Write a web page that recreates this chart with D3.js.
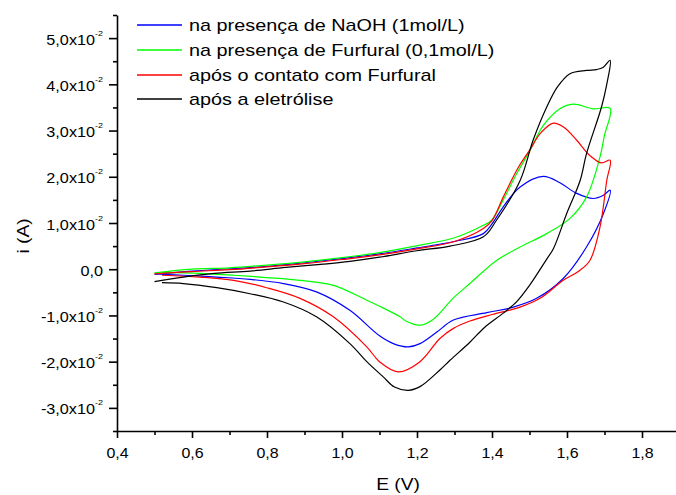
<!DOCTYPE html>
<html>
<head>
<meta charset="utf-8">
<script src="https://cdn.jsdelivr.net/npm/d3@7"></script>
<style>
  body { margin: 0; background: #fff; }
  svg { display: block; font-family: "Liberation Sans", Arial, sans-serif; }
</style>
</head>
<body>
<div class="chart"></div>
<script>
// Cyclic voltammograms, current in units of 1e-2 A
const iUnit = 1e-2;

const seriesNames = [
    "na presença de NaOH (1mol/L)",
    "na presença de Furfural (0,1mol/L)",
    "após o contato com Furfural",
    "após a eletrólise"
];
const seriesColors = ["#0000ff", "#00ff00", "#ff0000", "#000000"];

// blue: NaOH
const blueE = [0.50, 0.60, 0.70, 0.80, 0.90, 1.00, 1.10, 1.20, 1.30, 1.377, 1.40, 1.43, 1.475, 1.537, 1.581, 1.626, 1.67, 1.697, 1.715,
               1.697, 1.652, 1.59, 1.519, 1.457, 1.386, 1.297, 1.253, 1.208, 1.177, 1.14, 1.10, 1.021, 0.932, 0.844, 0.755, 0.666, 0.577, 0.52];
const blueI = [-0.11, -0.04, 0.01, 0.06, 0.14, 0.23, 0.33, 0.46, 0.60, 0.77, 0.98, 1.35, 1.78, 2.01, 1.87, 1.64, 1.53, 1.60, 1.71,
               1.20, 0.48, -0.20, -0.63, -0.82, -0.94, -1.10, -1.36, -1.61, -1.68, -1.62, -1.44, -0.89, -0.49, -0.31, -0.22, -0.17, -0.13, -0.11];

// green: Furfural
const greenE = [0.50, 0.60, 0.70, 0.80, 0.90, 1.00, 1.10, 1.208, 1.30, 1.377, 1.399, 1.43, 1.466, 1.50, 1.537, 1.581, 1.617, 1.67, 1.715,
                1.70, 1.688, 1.652, 1.608, 1.546, 1.475, 1.412, 1.341, 1.297, 1.244, 1.208, 1.17, 1.155, 1.10, 1.066, 0.977, 0.888, 0.799, 0.711, 0.621, 0.52];
const greenI = [-0.08, 0.00, 0.03, 0.09, 0.16, 0.25, 0.36, 0.52, 0.68, 0.95, 1.06, 1.50, 2.07, 2.55, 3.11, 3.47, 3.57, 3.47, 3.48,
                2.90, 2.43, 1.56, 1.10, 0.77, 0.48, 0.19, -0.31, -0.62, -1.08, -1.21, -1.12, -1.03, -0.80, -0.67, -0.35, -0.24, -0.18, -0.13, -0.09, -0.07];

// red: after contact with Furfural
const redE = [0.50, 0.60, 0.70, 0.80, 0.90, 1.00, 1.10, 1.20, 1.30, 1.377, 1.40, 1.43, 1.47, 1.50, 1.53, 1.564, 1.59, 1.626, 1.661, 1.692, 1.715,
              1.706, 1.688, 1.661, 1.63, 1.59, 1.528, 1.475, 1.40, 1.341, 1.297, 1.261, 1.208, 1.15, 1.10, 1.066, 0.977, 0.888, 0.799, 0.711, 0.621, 0.52];
const redI = [-0.10, -0.05, -0.01, 0.05, 0.12, 0.21, 0.31, 0.44, 0.60, 0.88, 1.05, 1.56, 2.20, 2.57, 2.95, 3.16, 3.08, 2.79, 2.46, 2.30, 2.36,
              1.92, 0.91, 0.19, -0.05, -0.24, -0.63, -0.82, -0.98, -1.12, -1.28, -1.50, -2.00, -2.22, -2.00, -1.68, -1.03, -0.63, -0.40, -0.24, -0.17, -0.13];

// black: after electrolysis
const blackE = [0.50, 0.577, 0.66, 0.755, 0.85, 0.95, 1.021, 1.10, 1.199, 1.288, 1.377, 1.412, 1.475, 1.51, 1.546, 1.575, 1.608, 1.652, 1.679, 1.697, 1.715,
                1.706, 1.692, 1.652, 1.635, 1.599, 1.564, 1.546, 1.50, 1.466, 1.43, 1.38, 1.341, 1.288, 1.261, 1.208, 1.177, 1.14, 1.11, 1.066, 1.021, 0.932, 0.844, 0.755, 0.666, 0.577, 0.52];
const blackI = [-0.27, -0.17, -0.09, -0.04, 0.04, 0.11, 0.17, 0.26, 0.40, 0.50, 0.70, 1.06, 1.92, 2.80, 3.51, 3.95, 4.23, 4.30, 4.32, 4.37, 4.52,
                4.00, 3.51, 2.50, 1.92, 1.20, 0.45, 0.22, -0.35, -0.70, -0.95, -1.26, -1.58, -1.97, -2.18, -2.54, -2.62, -2.55, -2.33, -2.00, -1.61, -1.03, -0.71, -0.53, -0.40, -0.31, -0.29];

const seriesE = [blueE, greenE, redE, blackE];
const seriesI = [blueI, greenI, redI, blackI];

// axis ticks
const xTicks = [0.4, 0.6, 0.8, 1.0, 1.2, 1.4, 1.6, 1.8];
const xMinorTicks = [0.5, 0.7, 0.9, 1.1, 1.3, 1.5, 1.7];
const yTicks = [-3, -2, -1, 0, 1, 2, 3, 4, 5];
const yMinorTicks = [-3.5, -2.5, -1.5, -0.5, 0.5, 1.5, 2.5, 3.5, 4.5, 5.5];

const width = 676, height = 495;
const font = "Liberation Sans, Arial, sans-serif";

const svg = d3.select(".chart").append("svg")
    .attr("width", width)
    .attr("height", height);

const xScale = d3.scaleLinear()
    .domain([0.4, 1.9])
    .range([117, 679.5]);

const yScale = d3.scaleLinear()
    .domain([-3.5 * iUnit, 5.5 * iUnit])
    .range([431, 15]);

// curves
const line = d3.line()
    .x(d => xScale(d.e))
    .y(d => yScale(d.i))
    .curve(d3.curveCatmullRom.alpha(0.5));

const curves = svg.append("g").attr("class", "curves");
seriesE.forEach((es, k) => {
    const pts = es.map((e, j) => ({e: e, i: seriesI[k][j] * iUnit}));
    curves.append("path")
        .datum(pts)
        .attr("fill", "none")
        .attr("stroke", seriesColors[k])
        .attr("stroke-width", 1.2)
        .attr("d", line);
});

function styleAxis(g) {
    g.selectAll(".domain, .tick line").attr("stroke", "#000").attr("stroke-width", 1.6);
}

// minor ticks
svg.append("g")
    .attr("transform", "translate(0,431)")
    .call(d3.axisBottom(xScale).tickValues(xMinorTicks).tickSize(4).tickFormat(""))
    .call(g => g.select(".domain").remove())
    .call(styleAxis);
svg.append("g")
    .attr("transform", "translate(117,0)")
    .call(d3.axisLeft(yScale).tickValues(yMinorTicks.map(v => v * iUnit)).tickSize(4).tickFormat(""))
    .call(g => g.select(".domain").remove())
    .call(styleAxis);

// X axis
const xAxis = svg.append("g")
    .attr("transform", "translate(0,431)")
    .call(d3.axisBottom(xScale)
        .tickValues(xTicks)
        .tickSize(7)
        .tickSizeOuter(0)
        .tickFormat(""))
    .call(styleAxis);

xAxis.selectAll(".tick").each(function(d) {
    d3.select(this).append("g")
        .attr("transform", "translate(0,27) scale(1.1,1)")
        .append("text")
        .attr("text-anchor", "middle")
        .attr("fill", "#000")
        .attr("font-size", 14.5)
        .attr("font-family", font)
        .text(d.toFixed(1).replace(".", ","));
});

// Y axis
const yAxis = svg.append("g")
    .attr("transform", "translate(117,0)")
    .call(d3.axisLeft(yScale)
        .tickValues(yTicks.map(v => v * iUnit))
        .tickSize(8)
        .tickSizeOuter(0)
        .tickFormat(""))
    .call(styleAxis);

yAxis.selectAll(".tick").each(function(d) {
    const v = Math.round(d / iUnit * 10) / 10;
    const t = d3.select(this).append("g")
        .attr("transform", "translate(-14,0) scale(1.12,1)")
        .append("text")
        .attr("dy", "0.42em")
        .attr("text-anchor", "end")
        .attr("fill", "#000")
        .attr("font-size", 14.5)
        .attr("font-family", font);
    if (v === 0) {
        t.text("0,0");
    } else {
        t.append("tspan").text(v.toFixed(1).replace(".", ",") + "x10");
        t.append("tspan").attr("font-size", 8).attr("dy", -9).text("-2");
    }
});

// Axis titles
svg.append("text")
    .attr("transform", "translate(398,490) scale(1.2,1)")
    .attr("text-anchor", "middle")
    .attr("font-size", 16)
    .text("E (V)");

svg.append("text")
    .attr("transform", "translate(28.5,236) rotate(-90) scale(1.2,1)")
    .attr("text-anchor", "middle")
    .attr("font-size", 16)
    .text("i (A)");

// Legend
const legendY = [25, 50, 75, 99];
const legend = svg.append("g").attr("class", "legend");
seriesNames.forEach((name, k) => {
    legend.append("path")
        .attr("d", d3.line()([[137, legendY[k]], [182, legendY[k]]]))
        .attr("fill", "none")
        .attr("stroke", seriesColors[k])
        .attr("stroke-width", 1.3);
    legend.append("text")
        .attr("transform", `translate(189,${legendY[k] + 6}) scale(1.24,1)`)
        .attr("font-size", 16)
        .text(name);
});
</script>
</body>
</html>
